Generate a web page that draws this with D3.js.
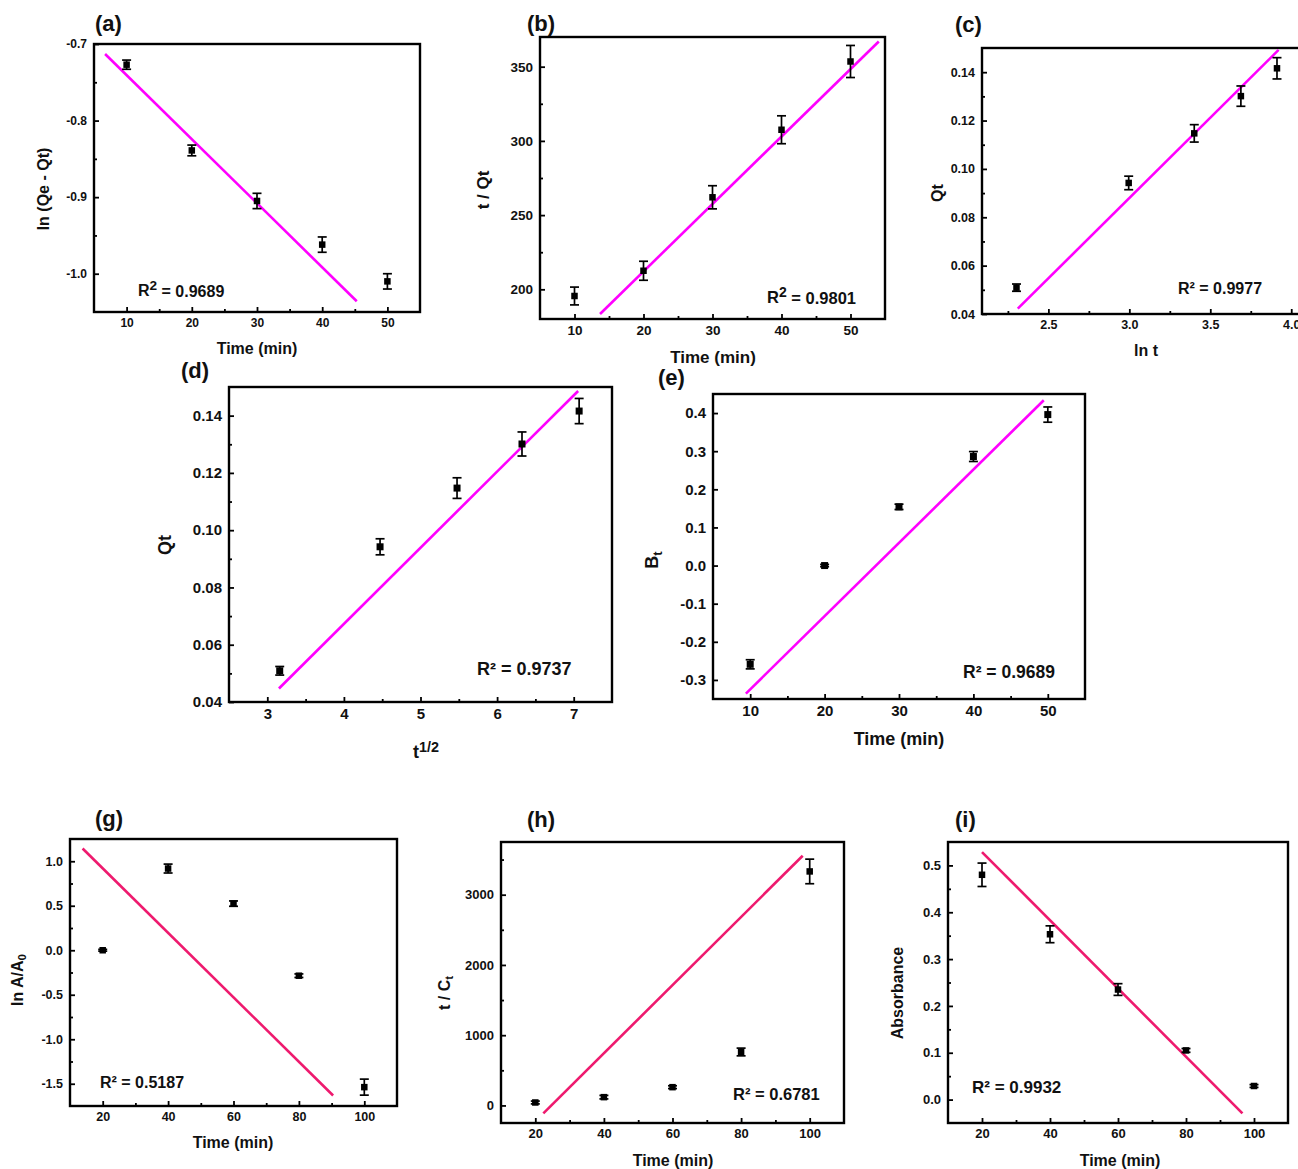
<!DOCTYPE html>
<html>
<head>
<meta charset="utf-8">
<script src="https://cdn.jsdelivr.net/npm/d3@7/dist/d3.min.js"></script>
<style>
  body { margin: 0; background: #fff; }
  svg { display: block; }
</style>
</head>
<body>
<svg id="chart" width="1298" height="1169"></svg>
<script>
// ---- data ----
var timeA = [10, 20, 30, 40, 50];
var timeB = [20, 40, 60, 80, 100];

var lnQeQt = [-0.727, -0.839, -0.905, -0.962, -1.010];
var lnQeQtErr = [0.006, 0.007, 0.010, 0.010, 0.010];

var tOverQt = [195.5, 212.5, 262, 307.5, 353.5];
var tOverQtErr = [6, 6.4, 7.8, 9.4, 10.8];

var lnT = [2.303, 2.996, 3.401, 3.689, 3.912];
var sqrtT = [3.162, 4.472, 5.477, 6.325, 7.071];
var qt = [0.0509, 0.0942, 0.1147, 0.1301, 0.1416];
var qtErr = [0.0015, 0.0028, 0.0036, 0.0042, 0.0044];

var bt = [-0.259, 0.0, 0.154, 0.286, 0.396];
var btErr = [0.012, 0.003, 0.007, 0.013, 0.02];

var lnAA0 = [0.0, 0.918, 0.524, -0.286, -1.538];
var lnAA0Err = [0.01, 0.05, 0.03, 0.02, 0.09];

var tOverCt = [42, 118, 260, 761, 3331];
var tOverCtErr = [20, 25, 20, 55, 175];

var absorbance = [0.480, 0.353, 0.235, 0.105, 0.029];
var absorbanceErr = [0.025, 0.018, 0.0125, 0.004, 0.003];

// fitted lines (end points, data units)
var fitA = { x: [6.7, 45.3], y: [-0.713, -1.036] };
var fitB = { x: [13.7, 54.1], y: [183.4, 367] };
var fitC = { x: [2.311, 3.922], y: [0.0422, 0.1492] };
var fitD = { x: [3.152, 7.058], y: [0.0447, 0.1486] };
var fitE = { x: [9.42, 49.46], y: [-0.336, 0.4335] };
var fitG = { x: [13.85, 90.46], y: [1.143, -1.632] };
var fitH = { x: [22.34, 97.96], y: [-114, 3554] };
var fitI = { x: [20, 96.6], y: [0.5285, -0.0293] };

// tick values
var ticksTime50 = [10, 20, 30, 40, 50], minorTime50 = [15, 25, 35, 45];
var ticksTime100 = [20, 40, 60, 80, 100], minorTime100 = [30, 50, 70, 90];
var ticksA = [-1.0, -0.9, -0.8, -0.7], minorA = [-0.95, -0.85, -0.75];
var ticksB = [200, 250, 300, 350], minorB = [225, 275, 325];
var ticksLnT = [2.5, 3.0, 3.5, 4.0], minorLnT = [2.25, 2.75, 3.25, 3.75];
var ticksSqrt = [3, 4, 5, 6, 7], minorSqrt = [3.5, 4.5, 5.5, 6.5];
var ticksQt = [0.04, 0.06, 0.08, 0.10, 0.12, 0.14], minorQt = [0.05, 0.07, 0.09, 0.11, 0.13];
var ticksBt = [-0.3, -0.2, -0.1, 0.0, 0.1, 0.2, 0.3, 0.4];
var ticksG = [-1.5, -1.0, -0.5, 0.0, 0.5, 1.0], minorG = [-1.25, -0.75, -0.25, 0.25, 0.75];
var ticksH = [0, 1000, 2000, 3000], minorH = [500, 1500, 2500, 3500];
var ticksI = [0.0, 0.1, 0.2, 0.3, 0.4, 0.5], minorI = [0.05, 0.15, 0.25, 0.35, 0.45];

var FONT = "'Liberation Sans', Arial, Helvetica, sans-serif";
var MAGENTA = "#ff00ff", PINK = "#ee1a6e";

var svg = d3.select("#chart");
svg.append("rect").attr("width", 1298).attr("height", 1169).attr("fill", "#fff");

function fixed(n) { return function (v) { return v.toFixed(n); }; }

// label parts: [text, "sub"|"sup"|null, size]
function richText(sel, parts) {
    var shift = 0;
    parts.forEach(function (p) {
        var t = sel.append("tspan").text(p[0]);
        var want = p[1] === "sub" ? 0.3 : p[1] === "sup" ? -0.45 : 0;
        if (want - shift !== 0) t.attr("dy", (want - shift) + "em");
        if (p[1]) t.attr("font-size", p[2] || "0.72em");
        shift = want;
    });
}

function drawPanel(p) {
    var g = svg.append("g"),
        x = d3.scaleLinear().domain(p.xDomain).range([p.box[0], p.box[2]]),
        y = d3.scaleLinear().domain(p.yDomain).range([p.box[3], p.box[1]]);

    var xa = g.append("g").attr("transform", "translate(0," + p.box[3] + ")")
        .call(d3.axisBottom(x).tickValues(p.xTicks).tickSizeInner(-5).tickSizeOuter(0).tickPadding(6).tickFormat(p.xFmt));
    g.append("g").attr("transform", "translate(0," + p.box[3] + ")")
        .call(d3.axisBottom(x).tickValues(p.xMinor || []).tickSize(-3).tickFormat(""));
    var ya = g.append("g").attr("transform", "translate(" + p.box[0] + ",0)")
        .call(d3.axisLeft(y).tickValues(p.yTicks).tickSizeInner(-5).tickSizeOuter(0).tickPadding(7).tickFormat(p.yFmt));
    g.append("g").attr("transform", "translate(" + p.box[0] + ",0)")
        .call(d3.axisLeft(y).tickValues(p.yMinor || []).tickSize(-3).tickFormat(""));

    g.selectAll(".domain").remove();
    g.selectAll(".tick line").attr("stroke", "#000").attr("stroke-width", 1.8);
    [xa, ya].forEach(function (a) {
        a.attr("font-family", FONT).attr("font-size", p.tickSize).attr("font-weight", "bold");
        a.selectAll("text").attr("fill", "#111");
    });

    g.append("rect")
        .attr("x", p.box[0]).attr("y", p.box[1])
        .attr("width", p.box[2] - p.box[0]).attr("height", p.box[3] - p.box[1])
        .attr("fill", "none").attr("stroke", "#000").attr("stroke-width", 2.4);

    // fit line
    g.append("line")
        .attr("x1", x(p.fit.x[0])).attr("y1", y(p.fit.y[0]))
        .attr("x2", x(p.fit.x[1])).attr("y2", y(p.fit.y[1]))
        .attr("stroke", p.lineColor).attr("stroke-width", 2.6);

    // error bars + markers
    var pts = p.xs.map(function (v, i) { return { x: v, y: p.ys[i], e: p.errs[i] }; });
    var cap = 4.5, ms = p.marker;
    var eb = g.append("g").attr("stroke", "#000").attr("stroke-width", 1.7);
    pts.forEach(function (d) {
        var cx = x(d.x), top = y(d.y + d.e), bot = y(d.y - d.e);
        eb.append("line").attr("x1", cx).attr("x2", cx).attr("y1", top).attr("y2", bot);
        eb.append("line").attr("x1", cx - cap).attr("x2", cx + cap).attr("y1", top).attr("y2", top);
        eb.append("line").attr("x1", cx - cap).attr("x2", cx + cap).attr("y1", bot).attr("y2", bot);
    });
    g.selectAll("rect.pt").data(pts).join("rect").attr("class", "pt")
        .attr("x", function (d) { return x(d.x) - ms / 2; })
        .attr("y", function (d) { return y(d.y) - ms / 2; })
        .attr("width", ms).attr("height", ms).attr("fill", "#000");

    // texts
    var txt = function (size) {
        return g.append("text").attr("font-family", FONT).attr("font-weight", "bold")
            .attr("font-size", size).attr("fill", "#111");
    };
    txt(22).attr("x", p.tag[0]).attr("y", p.tag[1]).text(p.tag[2]);

    var xl = txt(p.titleSize).attr("x", p.xLabelAt[0]).attr("y", p.xLabelAt[1])
        .attr("dy", "0.35em").attr("text-anchor", "middle");
    richText(xl, p.xLabel);

    var yl = txt(p.titleSize).attr("transform", "translate(" + p.yLabelAt[0] + "," + p.yLabelAt[1] + ") rotate(-90)")
        .attr("dy", "0.35em").attr("text-anchor", "middle");
    richText(yl, p.yLabel);

    var rl = txt(p.rSize).attr("x", p.rAt[0]).attr("y", p.rAt[1]);
    richText(rl, p.rText);
}

var panels = [
    { tag: [95, 31, "(a)"], box: [94, 44, 420, 312], xDomain: [5, 55], yDomain: [-1.05, -0.7],
      xTicks: ticksTime50, xMinor: minorTime50, yTicks: ticksA, yMinor: minorA, xFmt: fixed(0), yFmt: fixed(1),
      xs: timeA, ys: lnQeQt, errs: lnQeQtErr, fit: fitA, lineColor: MAGENTA,
      xLabel: [["Time (min)"]], xLabelAt: [257, 348], yLabel: [["ln (Qe - Qt)"]], yLabelAt: [43, 189],
      rText: [["R"], ["2", "sup", "0.85em"], [" = 0.9689"]], rAt: [138, 296],
      tickSize: 12, titleSize: 16, rSize: 16, marker: 6.5 },
    { tag: [527, 31, "(b)"], box: [540, 37, 885, 319], xDomain: [5, 55], yDomain: [180, 370],
      xTicks: ticksTime50, xMinor: minorTime50, yTicks: ticksB, yMinor: minorB, xFmt: fixed(0), yFmt: fixed(0),
      xs: timeA, ys: tOverQt, errs: tOverQtErr, fit: fitB, lineColor: MAGENTA,
      xLabel: [["Time (min)"]], xLabelAt: [713, 357], yLabel: [["t / Qt"]], yLabelAt: [483, 190],
      rText: [["R"], ["2", "sup", "0.85em"], [" = 0.9801"]], rAt: [767, 303],
      tickSize: 13.5, titleSize: 17, rSize: 16.5, marker: 6.5 },
    { tag: [955, 32, "(c)"], box: [982, 48, 1322, 314], xDomain: [2.09, 4.19], yDomain: [0.04, 0.15],
      xTicks: ticksLnT, xMinor: minorLnT, yTicks: ticksQt, yMinor: minorQt, xFmt: fixed(1), yFmt: fixed(2),
      xs: lnT, ys: qt, errs: qtErr, fit: fitC, lineColor: MAGENTA,
      xLabel: [["ln t"]], xLabelAt: [1146, 350], yLabel: [["Qt"]], yLabelAt: [937, 193],
      rText: [["R² = 0.9977"]], rAt: [1178, 294],
      tickSize: 12.5, titleSize: 16, rSize: 16, marker: 6.5 },
    { tag: [181, 378, "(d)"], box: [229, 387, 612, 702], xDomain: [2.5, 7.5], yDomain: [0.04, 0.15],
      xTicks: ticksSqrt, xMinor: minorSqrt, yTicks: ticksQt, yMinor: minorQt, xFmt: fixed(0), yFmt: fixed(2),
      xs: sqrtT, ys: qt, errs: qtErr, fit: fitD, lineColor: MAGENTA,
      xLabel: [["t"], ["1/2", "sup", "0.8em"]], xLabelAt: [426, 752], yLabel: [["Qt"]], yLabelAt: [165, 545],
      rText: [["R² = 0.9737"]], rAt: [477, 675],
      tickSize: 15, titleSize: 18, rSize: 18, marker: 7 },
    { tag: [658, 385, "(e)"], box: [713, 394, 1085, 699], xDomain: [5, 55], yDomain: [-0.35, 0.45],
      xTicks: ticksTime50, xMinor: minorTime50, yTicks: ticksBt, yMinor: [], xFmt: fixed(0), yFmt: fixed(1),
      xs: timeA, ys: bt, errs: btErr, fit: fitE, lineColor: MAGENTA,
      xLabel: [["Time (min)"]], xLabelAt: [899, 739], yLabel: [["B"], ["t", "sub"]], yLabelAt: [652, 560],
      rText: [["R² = 0.9689"]], rAt: [963, 678],
      tickSize: 15, titleSize: 18, rSize: 17.5, marker: 7 },
    { tag: [95, 826, "(g)"], box: [70, 839, 397, 1106], xDomain: [10, 110], yDomain: [-1.75, 1.25],
      xTicks: ticksTime100, xMinor: minorTime100, yTicks: ticksG, yMinor: minorG, xFmt: fixed(0), yFmt: fixed(1),
      xs: timeB, ys: lnAA0, errs: lnAA0Err, fit: fitG, lineColor: PINK,
      xLabel: [["Time (min)"]], xLabelAt: [233, 1142], yLabel: [["ln A/A"], ["0", "sub"]], yLabelAt: [17, 980],
      rText: [["R² = 0.5187"]], rAt: [100, 1088],
      tickSize: 12.5, titleSize: 16, rSize: 16, marker: 6.5 },
    { tag: [527, 827, "(h)"], box: [501, 842, 844, 1123], xDomain: [10, 110], yDomain: [-250, 3750],
      xTicks: ticksTime100, xMinor: minorTime100, yTicks: ticksH, yMinor: minorH, xFmt: fixed(0), yFmt: fixed(0),
      xs: timeB, ys: tOverCt, errs: tOverCtErr, fit: fitH, lineColor: PINK,
      xLabel: [["Time (min)"]], xLabelAt: [673, 1160], yLabel: [["t / C"], ["t", "sub"]], yLabelAt: [444, 993],
      rText: [["R² = 0.6781"]], rAt: [733, 1100],
      tickSize: 13, titleSize: 16, rSize: 16.5, marker: 6.5 },
    { tag: [955, 827, "(i)"], box: [948, 842, 1288, 1123], xDomain: [10, 110], yDomain: [-0.05, 0.55],
      xTicks: ticksTime100, xMinor: minorTime100, yTicks: ticksI, yMinor: minorI, xFmt: fixed(0), yFmt: fixed(1),
      xs: timeB, ys: absorbance, errs: absorbanceErr, fit: fitI, lineColor: PINK,
      xLabel: [["Time (min)"]], xLabelAt: [1120, 1160], yLabel: [["Absorbance"]], yLabelAt: [897, 993],
      rText: [["R² = 0.9932"]], rAt: [972, 1093],
      tickSize: 13, titleSize: 16, rSize: 17, marker: 6.5 }
];

panels.forEach(drawPanel);
</script>
</body>
</html>
